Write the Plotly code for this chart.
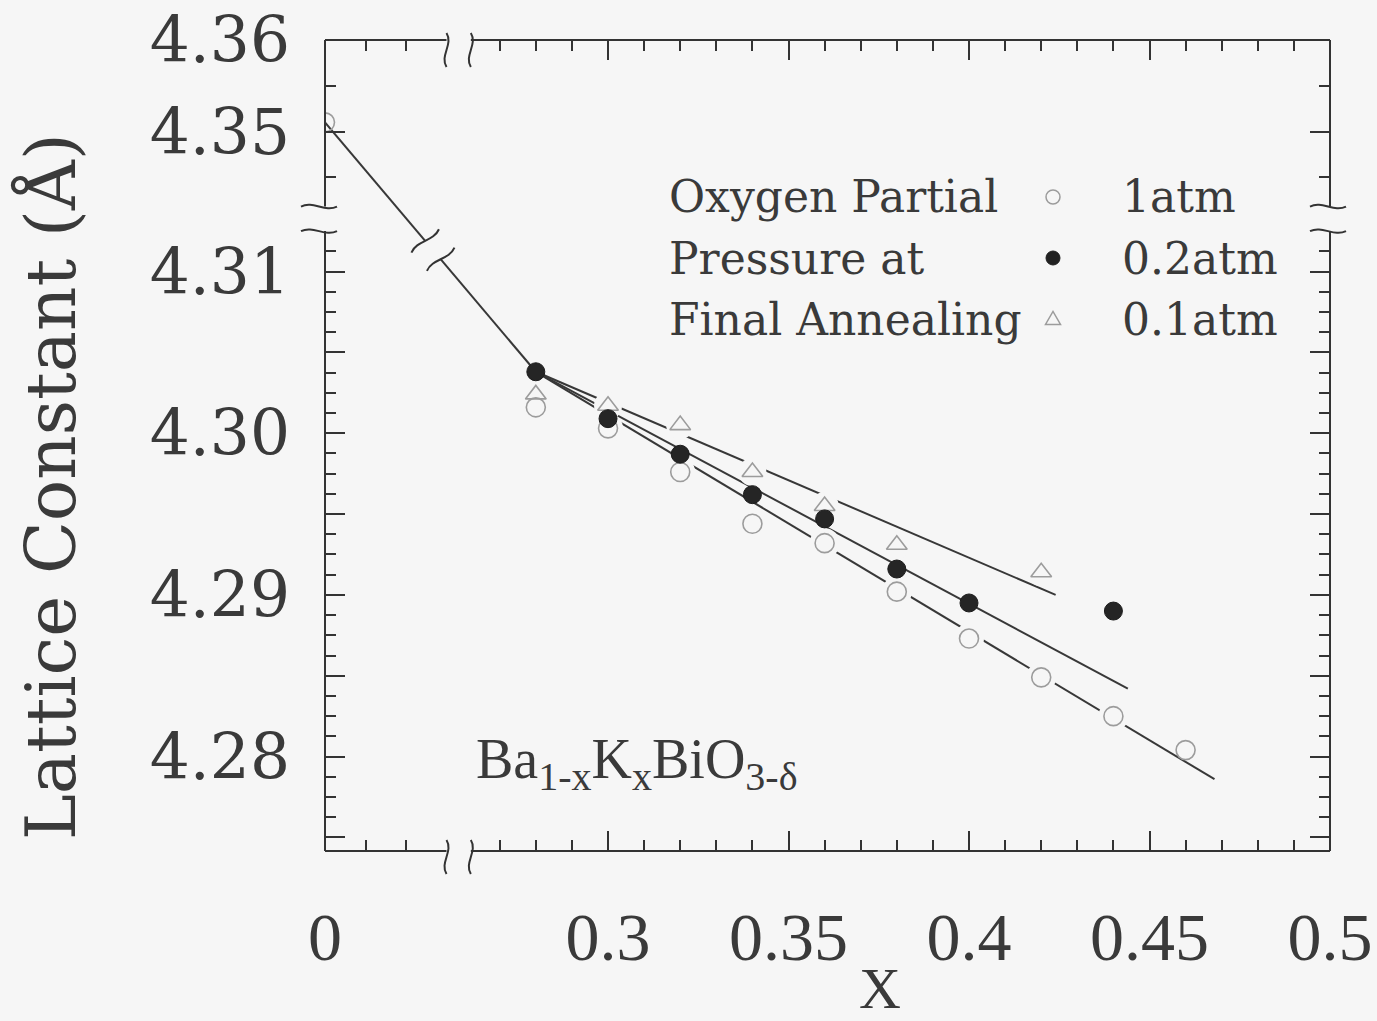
import math
import plotly.graph_objects as go

# ---- lattice constant of Ba(1-x)K(x)BiO(3-δ) versus K content x ----
# oxygen partial pressure during final annealing: 1 atm, 0.2 atm, 0.1 atm
x_1atm = [0.0, 0.28, 0.30, 0.32, 0.34, 0.36, 0.38, 0.40, 0.42, 0.44, 0.46]
a_1atm = [4.3510, 4.3016, 4.3003, 4.2976, 4.2944, 4.2932, 4.2902, 4.2873, 4.2849, 4.2825, 4.2804]

x_02atm = [0.28, 0.30, 0.32, 0.34, 0.36, 0.38, 0.40, 0.44]
a_02atm = [4.3038, 4.3009, 4.2987, 4.2962, 4.2947, 4.2916, 4.2895, 4.2890]

x_01atm = [0.28, 0.30, 0.32, 0.34, 0.36, 0.38, 0.42]
a_01atm = [4.3024, 4.3017, 4.3005, 4.2976, 4.2955, 4.2931, 4.2914]

# straight guide lines (end points)
link_x = [0.0, 0.28]
link_a = [4.3510, 4.3038]
fit_1atm_x = [0.28, 0.468]
fit_1atm_a = [4.3038, 4.2786]
fit_02atm_x = [0.28, 0.444]
fit_02atm_a = [4.3038, 4.2842]
fit_01atm_x = [0.28, 0.424]
fit_01atm_a = [4.3038, 4.2900]

# ticks
x_tick_values = [0.0, 0.30, 0.35, 0.40, 0.45, 0.50]
x_tick_labels = ['0', '0.3', '0.35', '0.4', '0.45', '0.5']
y_tick_values = [4.36, 4.35, 4.31, 4.30, 4.29, 4.28]
y_tick_labels = ['4.36', '4.35', '4.31', '4.30', '4.29', '4.28']
y_half_ticks = [4.305, 4.295, 4.285, 4.275]

legend_title_lines = ['Oxygen Partial', 'Pressure at', 'Final Annealing']
legend_labels = ['1atm', '0.2atm', '0.1atm']

# ---- broken axes: short stretched segment near 0 (x) and near 4.35 (y) ----
X_ORIGIN = 0.2216          # axis coordinate where x = 0 sits
X_STRETCH = 1.122          # scale of the left x segment relative to the main one
X_LEFT_END = 0.03
X_MAIN_START = 0.262
X_MAX = 0.50

Y_MIN = 4.27416
Y_MAIN_END = 4.3125
Y_UPPER_START = 4.3418
Y_TOP = 4.36
Y_TOP_AXIS = 4.32432       # axis coordinate where 4.36 sits
Y_SQUEEZE = 0.5659         # scale of the upper y segment relative to the main one


def bx(v):
    return v if v > 0.15 else X_ORIGIN + v * X_STRETCH


def by(v):
    return v if v < 4.33 else Y_TOP_AXIS - (Y_TOP - v) * Y_SQUEEZE


def mx(vals):
    return [bx(v) for v in vals]


def my(vals):
    return [by(v) for v in vals]


W, H = 1377, 1021
ML, MR, MT, MB = 325, 47, 40, 170
PW, PH = W - ML - MR, H - MT - MB
PX_X = PW / (X_MAX - X_ORIGIN)
PX_Y = PH / (Y_TOP_AXIS - Y_MIN)

BG = '#f6f6f6'
INK = '#333333'
TEXT = '#3a3a3a'
LINE = '#383838'
GREY_MARK = '#9c9c9c'
WIDE_SERIF = 'DejaVu Serif'
SERIF = 'Liberation Serif'

fig = go.Figure()

# guide lines
for gx, ga in [(link_x, link_a), (fit_1atm_x, fit_1atm_a),
               (fit_02atm_x, fit_02atm_a), (fit_01atm_x, fit_01atm_a)]:
    fig.add_trace(go.Scatter(x=mx(gx), y=my(ga), mode='lines',
                             line=dict(color=LINE, width=2), hoverinfo='skip'))

# clearance around open symbols that sit on a guide line
fig.add_trace(go.Scatter(x=mx(x_1atm[2:10]), y=my(a_1atm[2:10]), mode='markers',
                         marker=dict(symbol='circle', size=30, color=BG, line=dict(width=0)),
                         hoverinfo='skip'))
fig.add_trace(go.Scatter(x=mx(x_01atm[1:]), y=my(a_01atm[1:]), mode='markers',
                         marker=dict(symbol='circle', size=28, color=BG, line=dict(width=0)),
                         hoverinfo='skip'))

# data symbols
fig.add_trace(go.Scatter(x=mx(x_1atm), y=my(a_1atm), mode='markers', name='1atm',
                         marker=dict(symbol='circle-open', size=19, color=GREY_MARK,
                                     line=dict(color=GREY_MARK, width=1.6))))
fig.add_trace(go.Scatter(x=mx(x_01atm), y=my(a_01atm), mode='markers', name='0.1atm',
                         marker=dict(symbol='triangle-up-open', size=18, color=GREY_MARK,
                                     line=dict(color=GREY_MARK, width=1.6))))
fig.add_trace(go.Scatter(x=mx(x_02atm), y=my(a_02atm), mode='markers', name='0.2atm',
                         marker=dict(symbol='circle', size=18, color='#252525',
                                     line=dict(color='#1c1c1c', width=1))))

# carrier for the secondary y axis (long unlabelled ticks)
fig.add_trace(go.Scatter(x=[], y=[], yaxis='y2', mode='markers', hoverinfo='skip'))

shapes = []
frame = dict(color=INK, width=2)

# frame with gaps at the breaks
for yp in (0, 1):
    shapes.append(dict(type='line', xref='x', yref='paper', x0=X_ORIGIN, x1=bx(X_LEFT_END),
                       y0=yp, y1=yp, line=frame))
    shapes.append(dict(type='line', xref='x', yref='paper', x0=X_MAIN_START, x1=X_MAX,
                       y0=yp, y1=yp, line=frame))
for xp in (0, 1):
    shapes.append(dict(type='line', xref='paper', yref='y', x0=xp, x1=xp,
                       y0=Y_MIN, y1=Y_MAIN_END, line=frame))
    shapes.append(dict(type='line', xref='paper', yref='y', x0=xp, x1=xp,
                       y0=by(Y_UPPER_START), y1=Y_TOP_AXIS, line=frame))


def s_curve(cx, cy, dx, dy, length, bend):
    """Cubic S-stroke in pixels (y up) centred on (cx, cy), running along unit (dx, dy)."""
    nx, ny = -dy, dx
    h = length / 2.0
    x0, y0 = cx - h * dx, cy - h * dy
    x3, y3 = cx + h * dx, cy + h * dy
    x1, y1 = cx - h / 3 * dx + bend * nx, cy - h / 3 * dy + bend * ny
    x2, y2 = cx + h / 3 * dx - bend * nx, cy + h / 3 * dy - bend * ny
    return (f"M{x0:.1f},{y0:.1f} C{x1:.1f},{y1:.1f} {x2:.1f},{y2:.1f} {x3:.1f},{y3:.1f}")


def pixel_path(path, xref, yref, xa, ya, **kw):
    d = dict(type='path', path=path, xref=xref, yref=yref, xsizemode='pixel',
             ysizemode='pixel', xanchor=xa, yanchor=ya, line=dict(color=INK, width=2))
    d.update(kw)
    return d


# break marks on the x axes (top and bottom)
for xa in (bx(X_LEFT_END), X_MAIN_START):
    shapes.append(pixel_path(s_curve(0, -10, 0, -1, 34, 7), 'x', 'paper', xa, 1))
    shapes.append(pixel_path(s_curve(0, -6, 0, -1, 34, 7), 'x', 'paper', xa, 0))
# break marks on the y axes (left and right)
for ya in (by(Y_UPPER_START), Y_MAIN_END):
    shapes.append(pixel_path(s_curve(-6, 0, 1, 0, 36, 6), 'paper', 'y', 0, ya))
    shapes.append(pixel_path(s_curve(-2, 0, 1, 0, 36, 6), 'paper', 'y', 1, ya))

# break mark on the line that crosses the broken region
t = 0.512
lx0, lx1 = bx(link_x[0]), bx(link_x[1])
ly0, ly1 = by(link_a[0]), by(link_a[1])
ax_, ay_ = lx0 + t * (lx1 - lx0), ly0 + t * (ly1 - ly0)
ux, uy = (lx1 - lx0) * PX_X, (ly1 - ly0) * PX_Y
ul = math.hypot(ux, uy)
ux, uy = ux / ul, uy / ul
nx, ny = -uy, ux
g, hw = 12.0, 7.0
cover = "M{:.1f},{:.1f} L{:.1f},{:.1f} L{:.1f},{:.1f} L{:.1f},{:.1f} Z".format(
    -g * ux + hw * nx, -g * uy + hw * ny, g * ux + hw * nx, g * uy + hw * ny,
    g * ux - hw * nx, g * uy - hw * ny, -g * ux - hw * nx, -g * uy - hw * ny)
shapes.append(pixel_path(cover, 'x', 'y', ax_, ay_, fillcolor=BG, line=dict(width=0)))
for sgn in (-1, 1):
    shapes.append(pixel_path(s_curve(sgn * g * ux, sgn * g * uy, nx, ny, 36, 6),
                             'x', 'y', ax_, ay_))

# legend symbols
leg_y = [(H - MB - 197) / PH, (H - MB - 258) / PH, (H - MB - 319) / PH]
sym_x = (1053 - ML) / PW
shapes.append(dict(type='circle', xref='paper', yref='paper', xsizemode='pixel',
                   ysizemode='pixel', xanchor=sym_x, yanchor=leg_y[0],
                   x0=-7, x1=7, y0=-7, y1=7, line=dict(color=GREY_MARK, width=1.5)))
shapes.append(dict(type='circle', xref='paper', yref='paper', xsizemode='pixel',
                   ysizemode='pixel', xanchor=sym_x, yanchor=leg_y[1],
                   x0=-7, x1=7, y0=-7, y1=7, fillcolor='#222222',
                   line=dict(color='#222222', width=1)))
shapes.append(dict(type='path', xref='paper', yref='paper', xsizemode='pixel',
                   ysizemode='pixel', xanchor=sym_x, yanchor=leg_y[2],
                   path='M-7.5,-5.5 L7.5,-5.5 L0,7.5 Z', line=dict(color=GREY_MARK, width=1.5)))

annotations = []
for txt, yy in zip(legend_title_lines, leg_y):
    annotations.append(dict(text=txt, xref='paper', yref='paper', x=(667 - ML) / PW, y=yy,
                            xanchor='left', yanchor='middle', showarrow=False,
                            font=dict(family=WIDE_SERIF, size=44, color=TEXT)))
for txt, yy in zip(legend_labels, leg_y):
    annotations.append(dict(text=txt, xref='paper', yref='paper', x=(1120 - ML) / PW, y=yy,
                            xanchor='left', yanchor='middle', showarrow=False,
                            font=dict(family=WIDE_SERIF, size=44, color=TEXT)))

sub = '<sub><span style="font-size:40px">{}</span></sub>'
formula = 'Ba' + sub.format('1-x') + 'K' + sub.format('x') + 'BiO' + sub.format('3-δ')
annotations.append(dict(text=formula,
                        xref='paper', yref='paper', x=(474 - ML) / PW, y=(H - MB - 763) / PH,
                        xanchor='left', yanchor='middle', showarrow=False,
                        font=dict(family=SERIF, size=56, color=TEXT)))
annotations.append(dict(text='Lattice Constant (Å)', xref='paper', yref='paper',
                        x=(50 - ML) / PW, y=(H - MB - 487) / PH, textangle=-90,
                        xanchor='center', yanchor='middle', showarrow=False,
                        font=dict(family=WIDE_SERIF, size=69, color=TEXT)))
annotations.append(dict(text='X', xref='paper', yref='paper',
                        x=(880 - ML) / PW, y=(H - MB - 1014) / PH, height=48,
                        xanchor='center', yanchor='bottom', valign='middle', showarrow=False,
                        font=dict(family=SERIF, size=58, color=TEXT)))

x_minor = mx([0.01, 0.02]) + [0.27, 0.28, 0.29] + [
    round(0.30 + 0.01 * k, 3) for k in range(1, 20) if k % 5 != 0]
y_minor = my([4.355, 4.345]) + [
    round(4.275 + 0.00125 * k, 5) for k in range(0, 30) if k % 4 != 0]

tick_style = dict(ticks='inside', ticklen=20, tickwidth=2, tickcolor=INK, mirror='ticks',
                  showgrid=False, zeroline=False, showline=False, automargin=False,
                  fixedrange=True, tickmode='array')
minor_style = dict(tickmode='array', ticks='inside', ticklen=11, tickwidth=2,
                   tickcolor=INK, showgrid=False)

fig.update_layout(
    width=W, height=H,
    margin=dict(l=ML, r=MR, t=MT, b=MB, autoexpand=False),
    paper_bgcolor=BG, plot_bgcolor=BG,
    showlegend=False,
    shapes=shapes,
    annotations=annotations,
    xaxis=dict(range=[X_ORIGIN, X_MAX], tickvals=mx(x_tick_values), ticktext=x_tick_labels,
               tickfont=dict(family=SERIF, size=68, color=TEXT), ticklabelstandoff=40,
               minor=dict(tickvals=x_minor, **minor_style), **tick_style),
    yaxis=dict(range=[Y_MIN, Y_TOP_AXIS], tickvals=my(y_tick_values), ticktext=y_tick_labels,
               tickfont=dict(family=WIDE_SERIF, size=63, color=TEXT), ticklabelstandoff=34,
               minor=dict(tickvals=y_minor, **minor_style), **tick_style),
    yaxis2=dict(range=[Y_MIN, Y_TOP_AXIS], overlaying='y', anchor='x', side='left',
                tickvals=y_half_ticks, showticklabels=False, **tick_style),
)

fig.write_html('out.html')
